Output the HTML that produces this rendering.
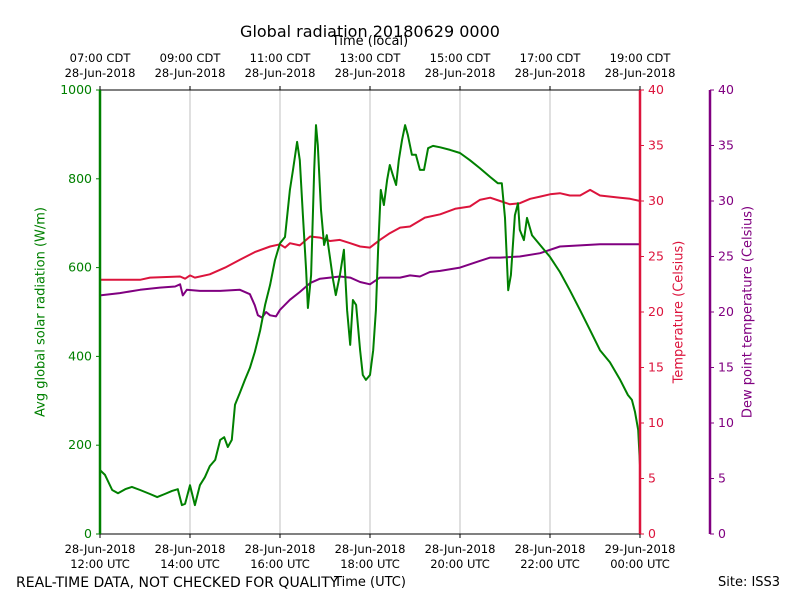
<!DOCTYPE html>
<html><head><meta charset="utf-8"><style>
body{margin:0;background:#fff;font-family:"Liberation Sans","DejaVu Sans",sans-serif}
svg text{font-family:"DejaVu Sans","Liberation Sans",sans-serif}
</style></head><body>
<svg id="c" width="800" height="600" xmlns="http://www.w3.org/2000/svg"></svg>
<script>
const radHours=[0,.11,.27,.4,.56,.71,.89,1.11,1.27,1.44,1.6,1.73,1.82,1.89,2.0,2.11,2.22,2.33,2.44,2.56,2.67,2.76,2.84,2.93,3.0,3.11,3.22,3.33,3.44,3.56,3.67,3.78,3.89,4.0,4.11,4.22,4.29,4.38,4.44,4.51,4.58,4.62,4.69,4.76,4.8,4.84,4.91,4.98,5.04,5.11,5.18,5.24,5.33,5.42,5.49,5.56,5.62,5.69,5.78,5.84,5.91,6.0,6.07,6.13,6.18,6.24,6.31,6.38,6.44,6.51,6.58,6.64,6.71,6.78,6.84,6.93,7.02,7.11,7.2,7.29,7.4,7.56,7.78,8.0,8.22,8.44,8.67,8.84,8.93,9.0,9.07,9.13,9.22,9.29,9.33,9.42,9.49,9.6,9.78,10.0,10.22,10.44,10.67,10.89,11.11,11.33,11.56,11.73,11.82,11.89,11.96,12];
const radValues=[144,133,99,92,101,106,99,90,83,90,97,101,65,68,110,65,110,128,153,167,212,218,196,212,291,318,347,374,410,459,516,561,617,655,669,775,820,883,842,718,595,509,583,820,921,876,730,651,673,622,572,538,583,640,504,426,527,516,414,358,347,358,414,504,640,775,741,797,831,808,786,842,887,921,899,854,854,820,820,869,874,871,865,858,842,824,804,790,790,712,549,583,718,745,685,662,712,673,651,624,590,549,504,459,414,387,347,313,302,275,234,155];
const tempHours=[0,.89,1.11,1.78,1.89,2.0,2.11,2.44,2.78,3.11,3.44,3.78,4.0,4.11,4.22,4.44,4.67,4.89,5.11,5.33,5.56,5.78,6.0,6.22,6.44,6.67,6.89,7.22,7.56,7.89,8.22,8.44,8.67,8.89,9.11,9.33,9.56,9.78,10.0,10.22,10.44,10.67,10.89,11.11,11.56,11.78,12];
const tempValues=[22.9,22.9,23.1,23.2,23.0,23.3,23.1,23.4,24.0,24.7,25.4,25.9,26.1,25.8,26.2,26.0,26.8,26.7,26.4,26.5,26.2,25.9,25.8,26.5,27.1,27.6,27.7,28.5,28.8,29.3,29.5,30.1,30.3,30.0,29.7,29.8,30.2,30.4,30.6,30.7,30.5,30.5,31.0,30.5,30.3,30.2,30.0];
const dewHours=[0,.44,.89,1.33,1.67,1.78,1.84,1.93,2.22,2.67,3.11,3.33,3.44,3.51,3.6,3.69,3.78,3.91,4.0,4.22,4.44,4.67,4.89,5.33,5.56,5.78,6.0,6.22,6.67,6.89,7.11,7.33,7.56,8.0,8.44,8.67,8.89,9.33,9.78,10.22,10.67,11.11,12];
const dewValues=[21.5,21.7,22.0,22.2,22.3,22.5,21.5,22.0,21.9,21.9,22.0,21.6,20.6,19.7,19.5,20.0,19.7,19.6,20.2,21.1,21.8,22.6,23.0,23.2,23.1,22.7,22.5,23.1,23.1,23.3,23.2,23.6,23.7,24.0,24.6,24.9,24.9,25.0,25.3,25.9,26.0,26.1,26.1];
const radTicks=[0,200,400,600,800,1000];
const tempTicks=[0,5,10,15,20,25,30,35,40];
const utcLabels=["28-Jun-2018|12:00 UTC","28-Jun-2018|14:00 UTC","28-Jun-2018|16:00 UTC","28-Jun-2018|18:00 UTC","28-Jun-2018|20:00 UTC","28-Jun-2018|22:00 UTC","29-Jun-2018|00:00 UTC"];
const cdtLabels=["07:00 CDT|28-Jun-2018","09:00 CDT|28-Jun-2018","11:00 CDT|28-Jun-2018","13:00 CDT|28-Jun-2018","15:00 CDT|28-Jun-2018","17:00 CDT|28-Jun-2018","19:00 CDT|28-Jun-2018"];

const L=100,R=640,T=90,B=534;
const xs=h=>L+h/12*(R-L);
const yr=v=>B-v/1000*(B-T);
const yt=v=>B-v/40*(B-T);
const svg=document.getElementById('c');
const NS="http://www.w3.org/2000/svg";
function mk(tag,attrs,parent){const e=document.createElementNS(NS,tag);for(const k in attrs)e.setAttribute(k,attrs[k]);(parent||svg).appendChild(e);return e;}
function txt(x,y,s,attrs){const e=mk('text',Object.assign({x:x,y:y},attrs));e.textContent=s;return e;}

for(let i=1;i<6;i++){const g=mk('line',{x1:xs(i*2),x2:xs(i*2),y1:T,y2:B,stroke:'#b0b0b0','stroke-width':0.8});

}

function line(hours,vals,fy,color,name){
 const d=hours.map((h,i)=>(i?'L':'M')+xs(h).toFixed(1)+','+fy(vals[i]).toFixed(1)).join('');
 const p=mk('path',{d:d,fill:'none',stroke:color,'stroke-width':2,'stroke-linejoin':'round'});
 
 
}
line(tempHours,tempValues,yt,'#dc143c','temperature-line');
line(dewHours,dewValues,yt,'#800080','dew-point-line');
line(radHours,radValues,yr,'#008000','solar-radiation-line');

const fr=mk('rect',{x:L,y:T,width:R-L,height:B-T,fill:'none',stroke:'#000','stroke-width':1});


mk('line',{x1:L,x2:L,y1:T,y2:B,stroke:'#008000','stroke-width':2.5});
mk('line',{x1:R,x2:R,y1:T,y2:B,stroke:'#dc143c','stroke-width':2.5});
mk('line',{x1:710,x2:710,y1:T,y2:B,stroke:'#800080','stroke-width':2.5});

radTicks.forEach(v=>{mk('line',{x1:L-4,x2:L,y1:yr(v),y2:yr(v),stroke:'#008000'});
 const t=txt(L-8,yr(v)+4,String(v),{'text-anchor':'end','font-size':12.5,fill:'#008000'});
 
 });
tempTicks.forEach(v=>{mk('line',{x1:R,x2:R+4,y1:yt(v),y2:yt(v),stroke:'#dc143c'});
 const t=txt(R+8,yt(v)+4,String(v),{'font-size':12.5,fill:'#dc143c'});
 
 
 mk('line',{x1:710,x2:714,y1:yt(v),y2:yt(v),stroke:'#800080'});
 const d=txt(718,yt(v)+4,String(v),{'font-size':12.5,fill:'#800080'});
 
 });
utcLabels.forEach((s,i)=>{const x=xs(i*2);mk('line',{x1:x,x2:x,y1:B,y2:B+4,stroke:'#000'});
 const p=s.split('|');
 const a=txt(x,B+19,p[0],{'text-anchor':'middle','font-size':11.5});
 const b=txt(x,B+34,p[1],{'text-anchor':'middle','font-size':11.5});});
cdtLabels.forEach((s,i)=>{const x=xs(i*2);mk('line',{x1:x,x2:x,y1:T-4,y2:T,stroke:'#000'});
 const p=s.split('|');
 const a=txt(x,T-28,p[0],{'text-anchor':'middle','font-size':11.5});
 const b=txt(x,T-13,p[1],{'text-anchor':'middle','font-size':11.5});});
</script>
<div style="position:absolute;left:0;top:0;width:800px;height:600px;pointer-events:none;font-family:'DejaVu Sans','Liberation Sans',sans-serif">
<div style="position:absolute;left:0;width:740px;top:22px;text-align:center;font-size:16px">Global radiation 20180629 0000</div>
<div style="position:absolute;left:0;width:740px;top:34px;text-align:center;font-size:13px">Time (local)</div>
<div style="position:absolute;left:0;width:740px;top:575px;text-align:center;font-size:13px">Time (UTC)</div>
<div style="position:absolute;left:16px;top:575px;font-size:14px">REAL-TIME DATA, NOT CHECKED FOR QUALITY</div>
<div style="position:absolute;left:718px;top:575px;font-size:13px">Site: ISS3</div>
<div style="position:absolute;left:41px;top:312px;width:0;height:0"><div style="position:absolute;transform:translate(-50%,-50%) rotate(-90deg);white-space:nowrap;font-size:13px;color:#008000">Avg global solar radiation (W/m)</div></div>
<div style="position:absolute;left:679px;top:312px;width:0;height:0"><div style="position:absolute;transform:translate(-50%,-50%) rotate(-90deg);white-space:nowrap;font-size:13px;color:#dc143c">Temperature (Celsius)</div></div>
<div style="position:absolute;left:748px;top:312px;width:0;height:0"><div style="position:absolute;transform:translate(-50%,-50%) rotate(-90deg);white-space:nowrap;font-size:13px;color:#800080">Dew point temperature (Celsius)</div></div>
</div>
</body></html>
